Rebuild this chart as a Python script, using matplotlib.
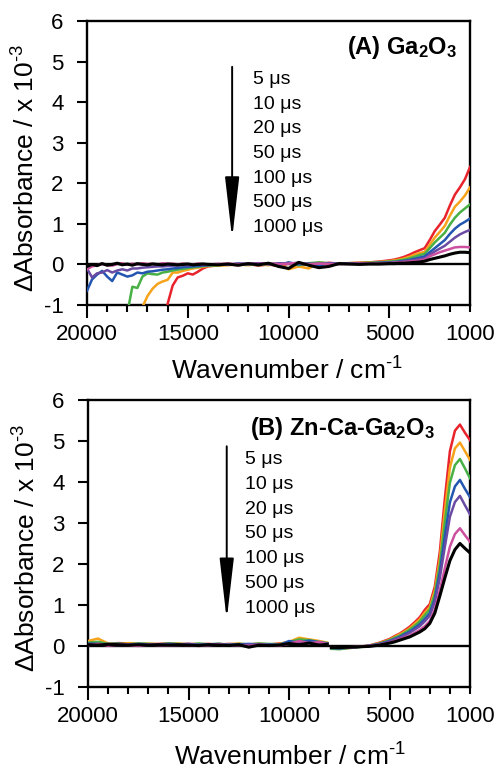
import numpy as np
import matplotlib
matplotlib.use("Agg")
import matplotlib.pyplot as plt
from matplotlib.ticker import MultipleLocator

plt.rcParams["font.family"] = ["Liberation Sans", "DejaVu Sans"]
plt.rcParams["mathtext.fontset"] = "custom"
plt.rcParams["mathtext.rm"] = "Liberation Sans"
plt.rcParams["mathtext.it"] = "Liberation Sans:italic"
plt.rcParams["mathtext.bf"] = "Liberation Sans:bold"
plt.rcParams["axes.unicode_minus"] = False

# ---- data (ΔAbsorbance x 1e-3) ----
delays = ["5 μs", "10 μs", "20 μs", "50 μs", "100 μs", "500 μs", "1000 μs"]
colors = ["#e8232b", "#f7a21b", "#48b045", "#2356b0", "#6a4ba3", "#cc4fa0", "black"]

wn_a = [20000, 19750, 19500, 19250, 19000, 18750, 18500, 18250, 18000, 17750,
        17500, 17250, 17000, 16750, 16500, 16250, 16000, 15750, 15500, 15250,
        15000, 14750, 14500, 14250, 14000,
        13500, 13000, 12500, 12000, 11500, 11000, 10500, 10000, 9500, 9000,
        8500, 8000, 7500, 7000, 6500, 6000, 5500,
        5000, 4750, 4500, 4250, 4000, 3750, 3500, 3250, 3000, 2750,
        2500, 2250, 2000, 1750, 1500, 1250, 1000]

a_5 = [-3.2, -3.1, -3.2, -3.0, -3.1, -2.9, -3.0, -2.8, -2.9, -2.7, -2.8, -2.6, -2.5,
       -2.6, -2.4, -2.0, -0.97, -0.52, -0.32, -0.28, -0.22, -0.25, -0.18, -0.10, -0.05,
       -0.02, 0.00, -0.02, 0.01, -0.03, 0.00, -0.04, 0.02, -0.05, 0.03, 0.00, 0.04,
       0.02, 0.03, 0.04, 0.05, 0.07,
       0.10, 0.12, 0.15, 0.19, 0.24, 0.30, 0.35, 0.40, 0.60, 0.82, 0.98, 1.15, 1.45,
       1.72, 1.90, 2.10, 2.40]
a_10 = [-3.1, -3.0, -3.2, -2.9, -3.0, -3.1, -2.8, -2.9, -2.7, -2.8, -2.6, -1.05, -0.78,
        -0.60, -0.48, -0.42, -0.38, -0.20, -0.20, -0.16, -0.13, -0.10, -0.08, -0.06, -0.04,
        -0.03, -0.02, 0.00, -0.02, 0.01, -0.02, 0.02, -0.12, -0.05, -0.10, 0.05, 0.02,
        0.03, 0.03, 0.04, 0.05, 0.06,
        0.08, 0.10, 0.12, 0.15, 0.19, 0.24, 0.28, 0.31, 0.48, 0.66, 0.80, 0.95, 1.20,
        1.42, 1.55, 1.70, 1.90]
a_20 = [-3.0, -2.9, -3.1, -2.8, -2.9, -2.7, -2.8, -2.6, -1.2, -0.55, -0.58, -0.30, -0.22,
        -0.24, -0.25, -0.20, -0.18, -0.15, -0.13, -0.11, -0.09, -0.07, -0.06, -0.04, -0.03,
        -0.02, 0.00, -0.01, 0.02, -0.02, 0.03, 0.00, 0.04, -0.02, 0.03, 0.05, 0.03,
        0.02, 0.03, 0.03, 0.04, 0.05,
        0.07, 0.08, 0.10, 0.12, 0.15, 0.19, 0.23, 0.26, 0.40, 0.54, 0.66, 0.78, 0.98,
        1.15, 1.28, 1.38, 1.48]
a_50 = [-0.65, -0.37, -0.25, -0.16, -0.30, -0.41, -0.20, -0.25, -0.30, -0.27, -0.20, -0.22,
        -0.18, -0.17, -0.15, -0.13, -0.12, -0.10, -0.09, -0.07, -0.06, -0.05, -0.04, -0.03,
        -0.02,
        0.00, -0.01, 0.02, 0.00, 0.03, 0.01, -0.02, 0.05, 0.00, 0.02, -0.03, 0.03,
        0.02, 0.02, 0.03, 0.03, 0.04,
        0.05, 0.06, 0.07, 0.09, 0.11, 0.14, 0.17, 0.20, 0.30, 0.40, 0.50, 0.60, 0.75,
        0.88, 0.98, 1.05, 1.13]
a_100 = [-0.10, -0.32, -0.22, -0.20, -0.14, -0.20, -0.15, -0.12, -0.15, -0.10, -0.10, -0.08,
         -0.07, -0.06, -0.05, -0.05, -0.04, -0.03, -0.03, -0.02, -0.02, -0.01, -0.01, 0.00,
         0.00,
         0.01, -0.01, 0.02, 0.01, 0.03, 0.00, 0.03, 0.02, 0.04, 0.01, 0.02, 0.02,
         0.01, 0.02, 0.02, 0.02, 0.03,
         0.04, 0.05, 0.06, 0.07, 0.09, 0.11, 0.13, 0.15, 0.24, 0.32, 0.39, 0.46, 0.56,
         0.66, 0.74, 0.80, 0.85]
a_500 = [-0.12, -0.05, -0.02, 0.02, -0.02, -0.03, 0.01, 0.03, -0.01, 0.02, 0.00, 0.03,
         0.01, 0.02, 0.00, 0.03, 0.01, 0.02, 0.00, 0.02, 0.01, 0.00, 0.02, 0.01, 0.00,
         0.01, 0.02, 0.00, 0.02, 0.01, 0.03, 0.00, 0.02, 0.04, 0.00, 0.02, 0.01,
         0.01, 0.01, 0.02, 0.02, 0.02,
         0.03, 0.04, 0.05, 0.06, 0.07, 0.08, 0.10, 0.12, 0.20, 0.25, 0.30, 0.34, 0.38,
         0.42, 0.43, 0.43, 0.42]
a_1000 = [-0.05, 0.00, -0.03, 0.02, -0.02, 0.00, 0.03, -0.01, 0.01, -0.02, 0.02, 0.00,
          -0.01, 0.01, 0.00, -0.01, 0.01, 0.00, -0.01, 0.00, 0.01, -0.01, 0.00, 0.01, 0.00,
          -0.01, 0.01, -0.02, 0.02, -0.01, 0.03, -0.05, -0.10, 0.05, -0.02, -0.08, -0.05,
          0.02, 0.01, 0.00, 0.01, 0.01,
          0.02, 0.02, 0.03, 0.03, 0.04, 0.05, 0.06, 0.08, 0.12, 0.15, 0.18, 0.21, 0.25,
          0.28, 0.30, 0.30, 0.29]

nan = np.nan
wn_b = [20000, 19500, 19000, 18500, 18000, 17500, 17000, 16500, 16000, 15500,
        15000, 14500, 14000, 13500, 13000, 12500, 12000, 11500, 11000, 10500,
        10000, 9500, 9000, 8500, 8100,
        8000, 7900, 7500, 7000, 6500, 6000, 5500,
        5000, 4750, 4500, 4250, 4000, 3750, 3500, 3250, 3000, 2750,
        2500, 2250, 2000, 1750, 1500, 1250, 1000]

b_5 = [0.10, 0.08, 0.05, 0.07, 0.06, 0.05, 0.04, 0.05, 0.06, 0.04, 0.05, 0.04, 0.05,
       0.03, 0.05, 0.04, 0.04, 0.05, 0.03, 0.06, 0.08, 0.12, 0.10, 0.08, 0.06,
       nan, -0.05, -0.06, -0.04, -0.02, 0.01, 0.08,
       0.17, 0.24, 0.30, 0.38, 0.47, 0.58, 0.70, 0.88, 1.02, 1.45, 2.30, 3.60, 4.75,
       5.25, 5.40, 5.20, 5.02]
b_10 = [0.12, 0.18, 0.06, 0.03, 0.07, 0.05, 0.06, 0.04, 0.05, 0.06, 0.04, 0.05, 0.03,
        0.05, 0.04, 0.06, 0.03, 0.05, 0.04, 0.05, 0.10, 0.20, 0.16, 0.12, 0.08,
        nan, -0.06, -0.07, -0.05, -0.02, 0.01, 0.07,
        0.15, 0.22, 0.28, 0.35, 0.43, 0.54, 0.65, 0.81, 0.95, 1.35, 2.12, 3.30, 4.35,
        4.82, 4.96, 4.75, 4.54]
b_20 = [0.08, 0.10, 0.05, 0.06, 0.04, 0.06, 0.05, 0.04, 0.06, 0.05, 0.03, 0.06, 0.04,
        0.05, 0.03, 0.05, 0.04, 0.06, 0.05, 0.04, 0.09, 0.16, 0.14, 0.10, 0.07,
        nan, -0.07, -0.08, -0.05, -0.03, 0.00, 0.06,
        0.14, 0.20, 0.25, 0.32, 0.40, 0.49, 0.60, 0.75, 0.89, 1.26, 1.97, 3.02, 3.98,
        4.41, 4.56, 4.33, 4.09]
b_50 = [0.06, 0.05, 0.04, 0.05, 0.03, 0.05, 0.04, 0.03, 0.05, 0.04, 0.05, 0.03, 0.04,
        0.05, 0.03, 0.04, 0.05, 0.03, 0.04, 0.02, 0.12, 0.08, 0.13, 0.09, 0.06,
        nan, -0.05, -0.06, -0.04, -0.02, 0.01, 0.05,
        0.12, 0.17, 0.22, 0.29, 0.35, 0.44, 0.53, 0.66, 0.80, 1.15, 1.80, 2.68, 3.50,
        3.89, 4.05, 3.83, 3.63]
b_100 = [0.04, 0.03, 0.05, 0.02, 0.04, 0.03, 0.02, 0.04, 0.03, 0.02, 0.04, 0.03, 0.02,
         0.04, 0.03, 0.02, 0.03, 0.04, 0.02, 0.03, 0.06, 0.10, 0.08, 0.07, 0.05,
         nan, -0.04, -0.05, -0.04, -0.02, 0.00, 0.04,
         0.11, 0.16, 0.20, 0.26, 0.32, 0.40, 0.48, 0.60, 0.74, 1.07, 1.66, 2.42, 3.15,
         3.51, 3.66, 3.43, 3.21]
b_500 = [0.02, 0.05, 0.01, 0.03, 0.02, 0.00, 0.03, 0.02, 0.01, 0.03, 0.02, 0.00, 0.02,
         0.03, 0.01, 0.02, 0.00, 0.03, 0.02, 0.01, 0.05, 0.12, 0.06, 0.10, 0.04,
         nan, -0.03, -0.04, -0.03, -0.02, 0.00, 0.03,
         0.08, 0.12, 0.16, 0.21, 0.25, 0.32, 0.39, 0.48, 0.61, 0.88, 1.35, 1.90, 2.42,
         2.73, 2.87, 2.70, 2.54]
b_1000 = [0.03, 0.02, 0.04, 0.03, 0.02, 0.03, 0.02, 0.03, 0.02, 0.03, 0.02, 0.01, 0.03,
          0.02, 0.01, 0.03, -0.03, 0.02, 0.01, 0.02, 0.06, 0.03, 0.07, 0.02, 0.04,
          nan, -0.04, -0.04, -0.03, -0.02, -0.01, 0.02,
          0.07, 0.10, 0.14, 0.18, 0.22, 0.28, 0.34, 0.42, 0.55, 0.80, 1.22, 1.66, 2.08,
          2.35, 2.50, 2.38, 2.27]

series_a = [a_5, a_10, a_20, a_50, a_100, a_500, a_1000]
series_b = [b_5, b_10, b_20, b_50, b_100, b_500, b_1000]


def style_panel(ax):
    ax.set_xlim(20000, 1000)
    ax.set_ylim(-1, 6)
    ax.axhline(0, color="black", linewidth=1.7, zorder=1)
    ax.set_xticks([20000, 15000, 10000, 5000, 1000])
    ax.xaxis.set_minor_locator(MultipleLocator(1000))
    ax.set_yticks(range(-1, 7))
    ax.tick_params(axis="x", which="major", direction="out", length=9, width=1.5,
                   labelsize=16, pad=5, top=False)
    ax.tick_params(axis="x", which="minor", direction="out", length=5, width=1.5, top=False)
    ax.tick_params(axis="y", direction="out", length=7, width=1.5, labelsize=16,
                   pad=10, right=False)
    ax.xaxis.get_major_ticks()[-1].tick1line.set_markersize(5)
    for sp in ax.spines.values():
        sp.set_linewidth(1.7)
    ax.set_xlabel(r"Wavenumber / cm$^{\text{-1}}$", fontsize=19)
    ax.set_ylabel(r"ΔAbsorbance / x 10$^{\text{-3}}$", fontsize=19)
    ax.yaxis.set_label_coords(-0.125, 0.484)


def draw_delays(ax, x_txt, x_arrow):
    ax.annotate("", xy=(x_arrow, 0.64), xytext=(x_arrow, 4.87),
                arrowprops=dict(arrowstyle="-|>,head_length=1.9,head_width=0.22",
                                mutation_scale=20, color="black", linewidth=1.4,
                                shrinkA=0, shrinkB=0))
    for i, lab in enumerate(delays):
        ax.text(x_txt, 4.55 - 0.605 * i, lab, fontsize=14, ha="left", va="center")


fig = plt.figure(figsize=(5.0, 7.69), dpi=100)
ax1 = fig.add_axes([0.174, 0.6034, 0.766, 0.3693])
ax2 = fig.add_axes([0.176, 0.1067, 0.764, 0.3732])

# ---- (A) Ga2O3 ----
for ys, c in zip(series_a, colors):
    ax1.plot(wn_a, ys, color=c, linewidth=2.2 if c == "black" else 1.8, zorder=3)
style_panel(ax1)
ax1.xaxis.set_label_coords(0.523, -0.185)
draw_delays(ax1, 11750, 12800)
ax1.text(0.966, 0.905, r"(A) $\mathbf{Ga_2O_3}$", transform=ax1.transAxes,
         fontsize=17, fontweight="bold", ha="right", va="center")

# ---- (B) Zn-Ca-Ga2O3 ----
for ys, c in zip(series_b, colors):
    ax2.plot(wn_b, ys, color=c, linewidth=2.2 if c == "black" else 1.8, zorder=3)
style_panel(ax2)
ax2.xaxis.set_label_coords(0.529, -0.195)
draw_delays(ax2, 12200, 13100)
ax2.text(0.908, 0.902, r"(B) Zn-Ca-$\mathbf{Ga_2O_3}$", transform=ax2.transAxes,
         fontsize=17, fontweight="bold", ha="right", va="center")

fig.savefig("out.png", dpi=100)
